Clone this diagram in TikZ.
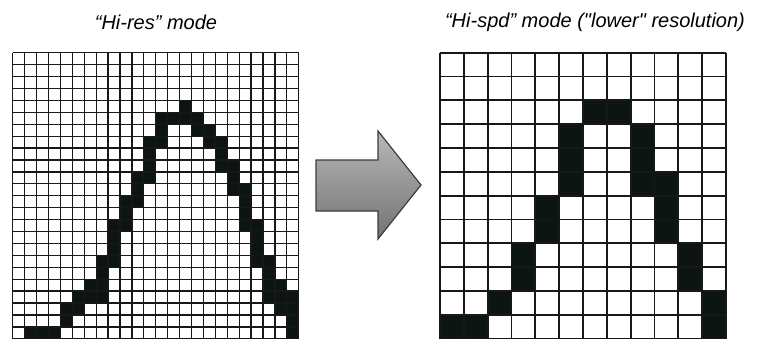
\documentclass[tikz,border=0pt]{standalone}
\usepackage{fontspec}
\newfontfamily\titlefont{Liberation Sans}
\usepackage{tikz}
\usetikzlibrary{positioning, calc}
\definecolor{pixelink}{RGB}{12,21,17}
\definecolor{gridline}{RGB}{24,24,24}
\definecolor{arrowedge}{RGB}{60,60,60}
\tikzset{
  pixon/.style={fill=pixelink},
  finegrid/.style={draw=gridline, line width=1.25pt},
  coarsegrid/.style={draw=gridline, line width=1.8pt},
  modetitle/.style={font=\titlefont\itshape\fontsize{20}{24}\selectfont, inner sep=0pt},
  blockarrow/.style={draw=arrowedge, line width=1.2pt, top color=black!28, bottom color=black!55}
}

\begin{document}
\begin{tikzpicture}[x=1pt, y=1pt]
  \useasboundingbox (0,0) rectangle (763,338);
  \node[modetitle] (hirestitle) at (156,316) {“Hi-res” mode};
  \node[modetitle] (hispdtitle) at (595,316) {“Hi-spd” mode ("lower" resolution)};

  \begin{scope}[shift={(12.7pt,-0.8pt)}, x=11.92pt, y=11.92pt]
    \foreach \r/\cols in {4/{14}, 5/{12,13,14,15}, 6/{12,15,16}, 7/{11,12,16,17},
        8/{11,17}, 9/{11,17,18}, 10/{10,11,18}, 11/{10,18,19}, 12/{9,10,19},
        13/{9,19}, 14/{8,9,19,20}, 15/{8,20}, 16/{8,20}, 17/{7,8,20,21},
        18/{7,21}, 19/{6,7,21,22}, 20/{5,6,7,21,22,23}, 21/{4,5,22,23},
        22/{4,23}, 23/{1,2,3,23}}{
      \foreach \c in \cols
        \fill[pixon] (\c,{23-\r}) rectangle ++(1,1);
    }
    \draw[finegrid, step=1] (0,0) grid (24,24);
  \end{scope}

  \begin{scope}[shift={(440pt,-0.7pt)}, x=23.83pt, y=23.83pt]
    \foreach \r/\cols in {2/{6,7}, 3/{5,8}, 4/{5,8}, 5/{5,8,9}, 6/{4,9},
        7/{4,9}, 8/{3,10}, 9/{3,10}, 10/{2,11}, 11/{0,1,11}}{
      \foreach \c in \cols
        \fill[pixon] (\c,{11-\r}) rectangle ++(1,1);
    }
    \draw[coarsegrid, step=1] (0,0) grid (12,12);
  \end{scope}

  \draw[blockarrow] (316,127) -- (378,127) -- (378,99) -- (421,153)
    -- (378,207) -- (378,178) -- (316,178) -- cycle;
\end{tikzpicture}
\end{document}
